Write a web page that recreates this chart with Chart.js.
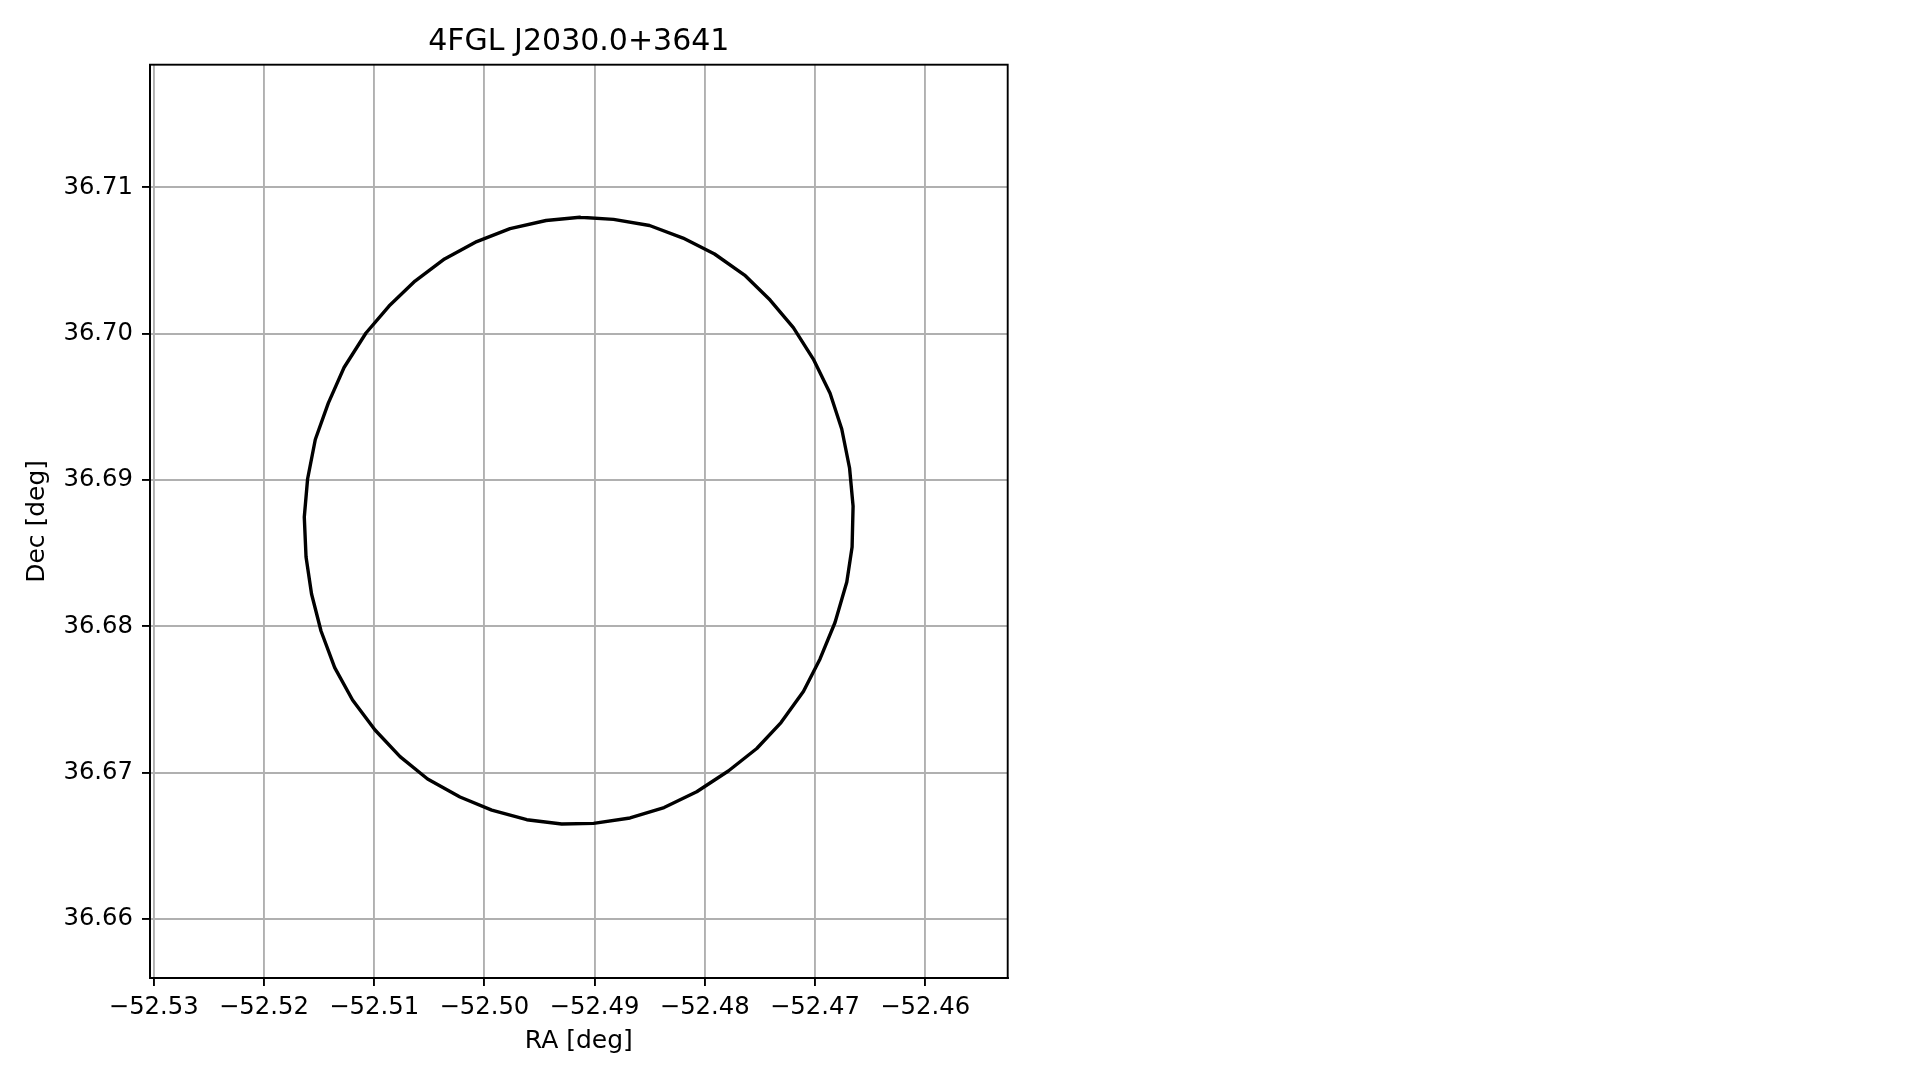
<!DOCTYPE html>
<html>
<head>
<meta charset="utf-8">
<title>4FGL J2030.0+3641</title>
<script src="https://cdn.jsdelivr.net/npm/chart.js@4.4.1/dist/chart.umd.min.js"></script>
<style>
  html, body { margin: 0; padding: 0; background: #ffffff; }
  #wrap { width: 1919px; height: 1080px; }
</style>
</head>
<body>
<div id="wrap"><canvas id="c" width="1919" height="1080"></canvas></div>
<script>
// ---- data ----
const chartTitle = '4FGL J2030.0+3641';
const xAxisLabel = 'RA [deg]';
const yAxisLabel = 'Dec [deg]';

const raValues = [
  -52.49132, -52.48828, -52.48501, -52.48197, -52.47911, -52.47639, -52.47407, -52.47196,
  -52.47015, -52.46863, -52.46757, -52.46686, -52.46654, -52.46663, -52.46711, -52.46818,
  -52.46954, -52.47105, -52.47308, -52.47528, -52.47786, -52.48073, -52.48369, -52.48678,
  -52.49009, -52.49298, -52.49615, -52.49933, -52.50221, -52.50515, -52.50765, -52.50992,
  -52.51196, -52.51358, -52.51482, -52.51568, -52.51618, -52.51634, -52.51604, -52.51534,
  -52.51416, -52.51273, -52.51074, -52.50865, -52.50629, -52.50361, -52.50069, -52.49767,
  -52.49440, -52.49132
];
const decValues = [
  36.70796, 36.70782, 36.70740, 36.70654, 36.70545, 36.70401, 36.70230, 36.70042,
  36.69827, 36.69593, 36.69349, 36.69082, 36.68822, 36.68542, 36.68303, 36.68026,
  36.67777, 36.67554, 36.67342, 36.67165, 36.67011, 36.66869, 36.66761, 36.66690,
  36.66653, 36.66649, 36.66678, 36.66744, 36.66833, 36.66956, 36.67109, 36.67291,
  36.67496, 36.67718, 36.67968, 36.68221, 36.68474, 36.68747, 36.69007, 36.69277,
  36.69526, 36.69769, 36.70005, 36.70189, 36.70360, 36.70511, 36.70630, 36.70719,
  36.70774, 36.70796
];

const xTickValues = [-52.53, -52.52, -52.51, -52.50, -52.49, -52.48, -52.47, -52.46];
const xTickLabels = ['\u221252.53', '\u221252.52', '\u221252.51', '\u221252.50', '\u221252.49', '\u221252.48', '\u221252.47', '\u221252.46'];
const yTickValues = [36.66, 36.67, 36.68, 36.69, 36.70, 36.71];
const yTickLabels = ['36.66', '36.67', '36.68', '36.69', '36.70', '36.71'];

const xRange = [-52.53034, -52.45251];
const yRange = [36.65596, 36.71839];

// ---- chart ----
const points = raValues.map((ra, i) => ({ x: ra, y: decValues[i] }));
const FONT = 'DejaVu Sans';
const tickFontSize = 24.3;
const labelFontSize = 25;

const framePlugin = {
  id: 'frame',
  afterDraw(chart) {
    const { ctx, chartArea: a } = chart;
    ctx.save();
    ctx.strokeStyle = '#000000';
    ctx.lineWidth = 1.9;
    ctx.strokeRect(a.left, a.top, a.right - a.left, a.bottom - a.top);
    ctx.restore();
  }
};

const bgPlugin = {
  id: 'bg',
  beforeDraw(chart) {
    const ctx = chart.ctx;
    ctx.save();
    ctx.fillStyle = '#ffffff';
    ctx.fillRect(0, 0, chart.width, chart.height);
    ctx.restore();
  }
};

new Chart(document.getElementById('c'), {
  type: 'scatter',
  data: {
    datasets: [{
      label: chartTitle,
      data: points,
      showLine: true,
      fill: false,
      borderColor: '#000000',
      backgroundColor: '#000000',
      borderWidth: 3.4,
      borderJoinStyle: 'round',
      borderCapStyle: 'round',
      pointRadius: 0,
      pointHoverRadius: 0,
      tension: 0
    }]
  },
  options: {
    responsive: false,
    devicePixelRatio: 1,
    animation: false,
    events: [],
    layout: { padding: { left: 0, top: 0, right: 911.3, bottom: 0 } },
    plugins: {
      legend: { display: false },
      tooltip: { enabled: false },
      title: {
        display: true,
        text: chartTitle,
        fullSize: false,
        color: '#000000',
        font: { family: FONT, size: 30, weight: 'normal', lineHeight: 1.2 },
        padding: { top: 24.1, bottom: 4.6 }
      }
    },
    scales: {
      x: {
        type: 'linear',
        position: 'bottom',
        min: xRange[0],
        max: xRange[1],
        afterBuildTicks(scale) { scale.ticks = xTickValues.map(v => ({ value: v })); },
        afterFit(scale) { scale.height = 102; },
        ticks: {
          color: '#000000',
          font: { family: FONT, size: tickFontSize },
          padding: 7,
          maxRotation: 0,
          autoSkip: false,
          callback(value, index) { return xTickLabels[index]; }
        },
        grid: {
          color: '#b0b0b0',
          lineWidth: 1.9,
          drawTicks: true,
          tickLength: 8,
          tickColor: '#000000',
          tickWidth: 1.9
        },
        border: { display: true, color: '#000000', width: 1.9 },
        title: {
          display: true,
          text: xAxisLabel,
          color: '#000000',
          font: { family: FONT, size: labelFontSize, lineHeight: 1.2 },
          padding: { top: 0, bottom: 23.5 }
        }
      },
      y: {
        type: 'linear',
        position: 'left',
        min: yRange[0],
        max: yRange[1],
        afterBuildTicks(scale) { scale.ticks = yTickValues.map(v => ({ value: v })); },
        afterFit(scale) { scale.width = 150; },
        ticks: {
          color: '#000000',
          font: { family: FONT, size: tickFontSize },
          padding: 9,
          autoSkip: false,
          callback(value, index) { return yTickLabels[index]; }
        },
        grid: {
          color: '#b0b0b0',
          lineWidth: 1.9,
          drawTicks: true,
          tickLength: 8,
          tickColor: '#000000',
          tickWidth: 1.9
        },
        border: { display: true, color: '#000000', width: 1.9 },
        title: {
          display: true,
          text: yAxisLabel,
          color: '#000000',
          font: { family: FONT, size: labelFontSize, lineHeight: 1.2 },
          padding: { top: 22.6, bottom: 0 }
        }
      }
    }
  },
  plugins: [bgPlugin, framePlugin]
});
</script>
</body>
</html>
